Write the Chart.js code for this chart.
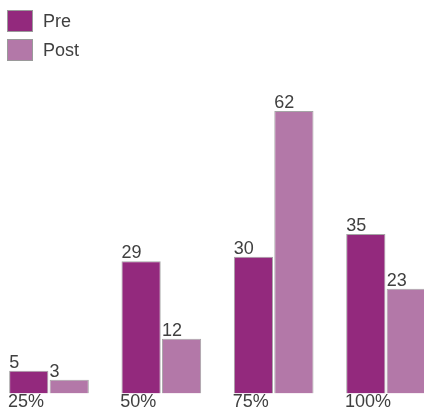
<!DOCTYPE html>
<html>
<head>
<meta charset="utf-8">
<script src="https://cdn.jsdelivr.net/npm/chart.js@4/dist/chart.umd.min.js"></script>
<style>
  html, body { margin: 0; padding: 0; background: #fff; }
  body { width: 424px; height: 412px; overflow: hidden; position: relative; font-family: 'Liberation Sans', Arial, sans-serif; }
  #wrap { position: absolute; left: -20px; top: 0; width: 470px; height: 412px; }
  .leg { position: absolute; left: 7px; display: flex; align-items: center; font-size: 18px; color: #404040; }
  .leg .box { width: 24px; height: 20px; border: 1px solid #9a9a9a; margin-right: 10px; }
</style>
</head>
<body>
<div id="wrap"><canvas id="c" width="470" height="412"></canvas></div>
<div id="legend"></div>
<script>
const categories = ['25%', '50%', '75%', '100%'];
const seriesNames = ['Pre', 'Post'];
const preValues = [5, 29, 30, 35];
const postValues = [3, 12, 62, 23];
const seriesColors = ['#93297d', '#b378a8'];

const FONT = "'Liberation Sans', Arial, sans-serif";

// HTML legend
const legend = document.getElementById('legend');
seriesNames.forEach((name, i) => {
  const d = document.createElement('div');
  d.className = 'leg';
  d.style.top = (10 + i * 29) + 'px';
  const b = document.createElement('div');
  b.className = 'box';
  b.style.background = seriesColors[i];
  const t = document.createElement('span');
  t.textContent = name;
  d.appendChild(b); d.appendChild(t);
  legend.appendChild(d);
});

const valueLabels = {
  id: 'valueLabels',
  afterDatasetsDraw(chart) {
    const ctx = chart.ctx;
    ctx.save();
    ctx.font = '18px ' + FONT;
    ctx.fillStyle = '#404040';
    ctx.textAlign = 'left';
    ctx.textBaseline = 'alphabetic';
    chart.data.datasets.forEach((ds, di) => {
      const meta = chart.getDatasetMeta(di);
      meta.data.forEach((el, i) => {
        ctx.fillText(String(ds.data[i]), el.x - el.width / 2, el.y - 3);
      });
    });
    ctx.restore();
  }
};

new Chart(document.getElementById('c'), {
  type: 'bar',
  data: {
    labels: categories,
    datasets: [
      { label: seriesNames[0], data: preValues, backgroundColor: seriesColors[0], borderColor: '#a5a5a5', borderWidth: 1 },
      { label: seriesNames[1], data: postValues, backgroundColor: seriesColors[1], borderColor: '#a5a5a5', borderWidth: 1 }
    ]
  },
  options: {
    responsive: false,
    animation: false,
    events: [],
    layout: { padding: { left: 12.8, right: 7.8, top: 74.5, bottom: 0 } },
    categoryPercentage: 0.72,
    barPercentage: 0.97,
    plugins: { legend: { display: false }, tooltip: { enabled: false } },
    scales: {
      x: {
        grid: { display: false, drawTicks: false },
        border: { display: false },
        ticks: {
          align: 'start', labelOffset: -41, padding: 0, maxRotation: 0, autoSkip: false,
          color: '#404040', font: { family: FONT, size: 18, lineHeight: 1 }
        },
        afterFit(s) { s.height = 18.5; }
      },
      y: {
        display: false, min: 0, max: 70
      }
    }
  },
  plugins: [valueLabels]
});
</script>
</body>
</html>
